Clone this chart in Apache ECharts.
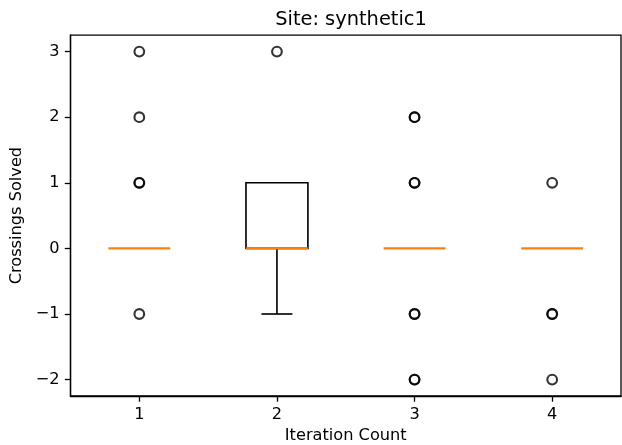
<!DOCTYPE html>
<html>
<head>
<meta charset="utf-8">
<script src="https://cdn.jsdelivr.net/npm/echarts@6/dist/echarts.min.js"></script>
<style>
  html, body { margin: 0; padding: 0; background: #fff; }
  #chart { width: 622px; height: 445px; }
</style>
</head>
<body>
<div id="chart"></div>
<script>
// Box statistics per iteration count
const categories = ['1', '2', '3', '4'];
const whiskerLow = [0, -1, 0, 0];
const q1 = [0, 0, 0, 0];
const median = [0, 0, 0, 0];
const q3 = [0, 1, 0, 0];
const whiskerHigh = [0, 1, 0, 0];
// Fliers (repeated values overlap and print darker)
const fliers1 = [3, 2, 1, 1, -1];
const fliers2 = [3];
const fliers3 = [2, 2, 1, 1, -1, -1, -2, -2];
const fliers4 = [1, -1, -1, -2];
const yTicks = [-2, -1, 0, 1, 2, 3];

const FONT = 'DejaVu Sans';
const BOX_FRAC = 0.45;   // box width as a fraction of category spacing
const LW = 1.62;         // box / whisker stroke
const MED_LW = 2.2;      // median stroke, fully covers the box edge below it
const SPINE = 1.3;

const boxData = categories.map((c, i) => [i, whiskerLow[i], q1[i], q3[i], whiskerHigh[i]]);
const medianData = categories.map((c, i) => [i, median[i]]);
const flierData = [];
[fliers1, fliers2, fliers3, fliers4].forEach((arr, i) => arr.forEach(v => flierData.push([i, v])));

function halfBox(api) {
  return api.size([1, 0])[0] * BOX_FRAC / 2;
}

function renderBox(params, api) {
  const idx = api.value(0);
  const half = halfBox(api);
  const capHalf = half / 2;
  const vLow = api.value(1), vQ1 = api.value(2), vQ3 = api.value(3), vHigh = api.value(4);
  const pLow = api.coord([idx, vLow]);
  const pQ1 = api.coord([idx, vQ1]);
  const pQ3 = api.coord([idx, vQ3]);
  const pHigh = api.coord([idx, vHigh]);
  const x = pQ1[0];
  const black = { stroke: '#000', lineWidth: LW, fill: null };
  const children = [];
  // whiskers and caps (a zero-length whisker sits under the median and is skipped)
  if (vLow < vQ1) {
    children.push({ type: 'line', shape: { x1: x, y1: pQ1[1], x2: x, y2: pLow[1] }, style: black });
    children.push({ type: 'line', shape: { x1: x - capHalf, y1: pLow[1], x2: x + capHalf, y2: pLow[1] }, style: black });
  }
  if (vHigh > vQ3) {
    children.push({ type: 'line', shape: { x1: x, y1: pQ3[1], x2: x, y2: pHigh[1] }, style: black });
    children.push({ type: 'line', shape: { x1: x - capHalf, y1: pHigh[1], x2: x + capHalf, y2: pHigh[1] }, style: black });
  }
  // box body
  if (vQ3 > vQ1) {
    children.push({ type: 'rect', shape: { x: x - half, y: pQ3[1], width: 2 * half, height: pQ1[1] - pQ3[1] }, style: black });
  }
  return { type: 'group', children: children };
}

function renderMedian(params, api) {
  const idx = api.value(0);
  const half = halfBox(api);
  const p = api.coord([idx, api.value(1)]);
  return {
    type: 'line',
    shape: { x1: p[0] - half, y1: p[1], x2: p[0] + half, y2: p[1] },
    style: { stroke: '#ff7f0e', lineWidth: MED_LW }
  };
}

const chart = echarts.init(document.getElementById('chart'), null, { renderer: 'canvas' });
chart.setOption({
  animation: false,
  backgroundColor: '#fff',
  title: {
    text: 'Site: synthetic1',
    left: 346, top: 5, textAlign: 'center',
    textStyle: { fontFamily: FONT, fontSize: 19.4, fontWeight: 'normal', color: '#000' }
  },
  grid: {
    left: 70.5, right: 1, top: 35.2, bottom: 49,
    outerBoundsMode: 'none',
    containLabel: false,
    show: true, borderColor: '#000', borderWidth: SPINE, backgroundColor: 'transparent'
  },
  xAxis: {
    type: 'category',
    data: categories,
    boundaryGap: true,
    name: 'Iteration Count',
    nameLocation: 'middle',
    nameGap: 32,
    nameTextStyle: { fontFamily: FONT, fontSize: 16.2, color: '#000' },
    axisLine: { show: true, onZero: false, lineStyle: { color: '#000', width: SPINE } },
    axisTick: { show: true, alignWithLabel: true, length: 5.7, lineStyle: { color: '#000', width: SPINE } },
    axisLabel: { fontFamily: FONT, fontSize: 16.2, color: '#000', margin: 10.5 },
    splitLine: { show: false }
  },
  yAxis: {
    type: 'value',
    min: -2.25, max: 3.25,
    name: 'Crossings Solved',
    nameLocation: 'middle',
    nameRotate: 90,
    nameGap: 43,
    nameTextStyle: { fontFamily: FONT, fontSize: 16.2, color: '#000' },
    axisLine: { show: true, onZero: false, lineStyle: { color: '#000', width: SPINE } },
    axisTick: { show: true, length: 5.7, customValues: yTicks, lineStyle: { color: '#000', width: SPINE } },
    axisLabel: {
      fontFamily: FONT, fontSize: 16.2, color: '#000', margin: 11,
      customValues: yTicks,
      formatter: v => String(v).replace('-', '\u2212')
    },
    splitLine: { show: false }
  },
  series: [
    {
      type: 'custom',
      renderItem: renderBox,
      data: boxData,
      encode: { x: 0, y: [1, 2, 3, 4] },
      z: 2
    },
    {
      type: 'custom',
      renderItem: renderMedian,
      data: medianData,
      encode: { x: 0, y: 1 },
      z: 4
    },
    {
      type: 'scatter',
      data: flierData,
      symbol: 'circle',
      symbolSize: 9.7,
      itemStyle: { color: 'rgba(0,0,0,0)', borderColor: '#000', borderWidth: 2.1 },
      z: 5
    }
  ]
});
</script>
</body>
</html>
